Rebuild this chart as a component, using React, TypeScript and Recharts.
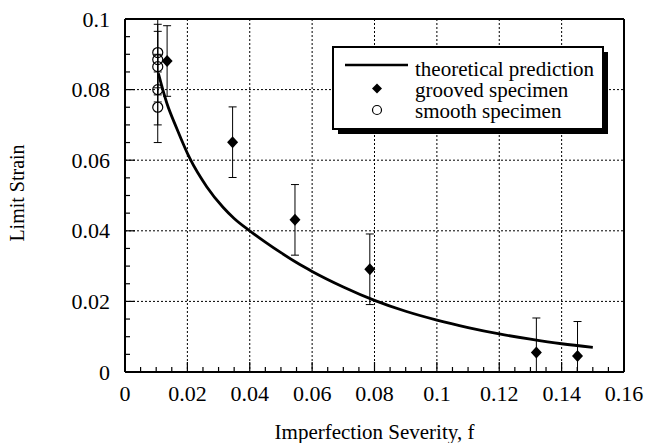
import React from 'react';
import {
  ComposedChart,
  Line,
  Scatter,
  ErrorBar,
  XAxis,
  YAxis,
  CartesianGrid,
  Legend,
  Customized,
} from 'recharts';

// theoretical prediction curve
const theoryF = [0.0107, 0.0134, 0.0166, 0.0208, 0.0262, 0.0315, 0.035, 0.04, 0.045, 0.05, 0.055, 0.06, 0.07, 0.08, 0.09, 0.1, 0.11, 0.12, 0.13, 0.14, 0.15];
const theoryStrain = [0.0846, 0.0762, 0.069, 0.0605, 0.0525, 0.0466, 0.0435, 0.04, 0.0368, 0.0338, 0.031, 0.0285, 0.0241, 0.0203, 0.0172, 0.0147, 0.0126, 0.0108, 0.0093, 0.008, 0.007];

// grooved specimens (error bars: below / above)
const groovedF = [0.0135, 0.0345, 0.0545, 0.0785, 0.1319, 0.1451];
const groovedStrain = [0.0881, 0.0651, 0.0431, 0.0291, 0.0055, 0.0045];
const groovedErrLow = [0.01, 0.01, 0.01, 0.01, 0.0055, 0.0045];
const groovedErrHigh = [0.01, 0.01, 0.01, 0.01, 0.0098, 0.0098];

// smooth specimens
const smoothF = [0.0105, 0.0105, 0.0105, 0.0105, 0.0105];
const smoothStrain = [0.0905, 0.0885, 0.0865, 0.08, 0.075];
const smoothErrLow = [0.01, 0.01, 0.01, 0.01, 0.01];
const smoothErrHigh = [0.0095, 0.01, 0.01, 0.01, 0.01];

const xMajor = [0, 0.02, 0.04, 0.06, 0.08, 0.1, 0.12, 0.14, 0.16];
const xMinor = [0.005, 0.01, 0.015, 0.025, 0.03, 0.035, 0.045, 0.05, 0.055, 0.065, 0.07, 0.075, 0.085, 0.09, 0.095, 0.105, 0.11, 0.115, 0.125, 0.13, 0.135, 0.145, 0.15, 0.155];
const yMajor = [0, 0.02, 0.04, 0.06, 0.08, 0.1];
const yMinor = [0.005, 0.01, 0.015, 0.025, 0.03, 0.035, 0.045, 0.05, 0.055, 0.065, 0.07, 0.075, 0.085, 0.09, 0.095];

const theory = theoryF.map((x, i) => ({ x, y: theoryStrain[i] }));
const grooved = groovedF.map((x, i) => ({ x, y: groovedStrain[i], err: [groovedErrLow[i], groovedErrHigh[i]] }));
const smooth = smoothF.map((x, i) => ({ x, y: smoothStrain[i], err: [smoothErrLow[i], smoothErrHigh[i]] }));

const xAll = [...xMajor, ...xMinor].sort((a, b) => a - b);
const yAll = [...yMajor, ...yMinor].sort((a, b) => a - b);

const FONT = 'Liberation Serif';
const xDomain = [0, 0.16];
const yDomain = [0, 0.1];

if (typeof document !== 'undefined') document.body.style.margin = '0';

const isMajor = (v: number) => Math.abs(v / 0.02 - Math.round(v / 0.02)) < 1e-6;
const fmt = (v: number) => String(Number(v.toFixed(3)));

// inward tick marks, label only on the labelled axes
const makeTick = (side: 'bottom' | 'top' | 'left' | 'right', labels: boolean) => (props: any) => {
  const { x, y, payload } = props;
  const v = payload.value;
  const len = isMajor(v) ? 10 : 5;
  let line;
  if (side === 'bottom') line = <line x1={x} y1={y} x2={x} y2={y - len} stroke="#000" strokeWidth={1.2} />;
  else if (side === 'top') line = <line x1={x} y1={y} x2={x} y2={y + len} stroke="#000" strokeWidth={1.2} />;
  else if (side === 'left') line = <line x1={x} y1={y} x2={x + len} y2={y} stroke="#000" strokeWidth={1.2} />;
  else line = <line x1={x} y1={y} x2={x - len} y2={y} stroke="#000" strokeWidth={1.2} />;
  let label = null;
  if (labels && isMajor(v)) {
    if (side === 'bottom')
      label = <text x={x} y={y + 29} textAnchor="middle" fontFamily={FONT} fontSize={22} fill="#000">{fmt(v)}</text>;
    else
      label = <text x={x - 15} y={y + 7.5} textAnchor="end" fontFamily={FONT} fontSize={22} fill="#000">{fmt(v)}</text>;
  }
  return (
    <g>
      {line}
      {label}
    </g>
  );
};

const Diamond = (props: any) => {
  const { cx, cy } = props;
  if (cx == null || cy == null) return null;
  return <polygon points={`${cx},${cy - 6} ${cx + 5.5},${cy} ${cx},${cy + 6} ${cx - 5.5},${cy}`} fill="#000" />;
};

const Ring = (props: any) => {
  const { cx, cy } = props;
  if (cx == null || cy == null) return null;
  return <circle cx={cx} cy={cy} r={5} fill="none" stroke="#000" strokeWidth={1.2} />;
};

const LegendBox = () => (
  <svg width={280} height={90} style={{ display: 'block' }}>
    <rect x={6} y={6} width={270} height={82} fill="#000" />
    <rect x={1} y={1} width={270} height={82} fill="#fff" stroke="#000" strokeWidth={2} />
    <line x1={13} y1={19} x2={76} y2={19} stroke="#000" strokeWidth={2.5} />
    <polygon points="45,37.5 50,42.5 45,47.5 40,42.5" fill="#000" />
    <circle cx={45} cy={64} r={4.5} fill="none" stroke="#000" strokeWidth={1.2} />
    <text x={83} y={29.5} fontFamily={FONT} fontSize={21} fill="#000">theoretical prediction</text>
    <text x={83} y={51} fontFamily={FONT} fontSize={21} fill="#000">grooved specimen</text>
    <text x={83} y={72} fontFamily={FONT} fontSize={21} fill="#000">smooth specimen</text>
  </svg>
);

const frame = { stroke: '#000', strokeWidth: 2 };

export default function App() {
  return (
    <div style={{ padding: '8px 0 0 8px', width: 640, height: 435, fontFamily: FONT }}>
      <ComposedChart width={640} height={435} margin={{ top: 10, right: 23, bottom: 70, left: 116 }}>
        <CartesianGrid stroke="#000" strokeDasharray="2 2" strokeWidth={1}
          horizontalValues={yMajor} verticalValues={xMajor} />

        <XAxis xAxisId={0} dataKey="x" type="number" domain={xDomain} ticks={xAll} interval={0} height={1}
          allowDataOverflow tickLine={false} tickSize={0} tickMargin={0} tick={makeTick('bottom', true)}
          axisLine={frame} />
        <XAxis xAxisId="top" orientation="top" type="number" domain={xDomain} ticks={xAll} interval={0} height={1}
          tickLine={false} tickSize={0} tickMargin={0} tick={makeTick('top', false)} axisLine={frame} />

        <YAxis yAxisId={0} dataKey="y" type="number" domain={yDomain} ticks={yAll} interval={0} width={1}
          allowDataOverflow tickLine={false} tickSize={0} tickMargin={0} tick={makeTick('left', true)}
          axisLine={frame} />
        <YAxis yAxisId="right" orientation="right" type="number" domain={yDomain} ticks={yAll} interval={0} width={1}
          tickLine={false} tickSize={0} tickMargin={0} tick={makeTick('right', false)} axisLine={frame} />

        <Line data={theory} dataKey="y" type="monotone" stroke="#000" strokeWidth={2.8} dot={false}
          isAnimationActive={false} legendType="none" />
        <Scatter data={grooved} dataKey="y" shape={<Diamond />} isAnimationActive={false}>
          <ErrorBar dataKey="err" direction="y" width={4} stroke="#000" strokeWidth={1} />
        </Scatter>
        <Scatter data={smooth} dataKey="y" shape={<Ring />} isAnimationActive={false}>
          <ErrorBar dataKey="err" direction="y" width={4} stroke="#000" strokeWidth={1} />
        </Scatter>

        <Legend layout="vertical" align="center" verticalAlign="middle" content={<LegendBox />}
          wrapperStyle={{ left: 324, top: 38, width: 282, height: 92 }} />

        <Customized component={
          <g>
            <text x={366.5} y={431} textAnchor="middle" fontFamily={FONT} fontSize={21} fill="#000">Imperfection Severity, f</text>
            <text x={15.5} y={185} textAnchor="middle" transform="rotate(-90 15.5 185)" fontFamily={FONT} fontSize={20} fill="#000">Limit Strain</text>
          </g>
        } />
      </ComposedChart>
    </div>
  );
}
